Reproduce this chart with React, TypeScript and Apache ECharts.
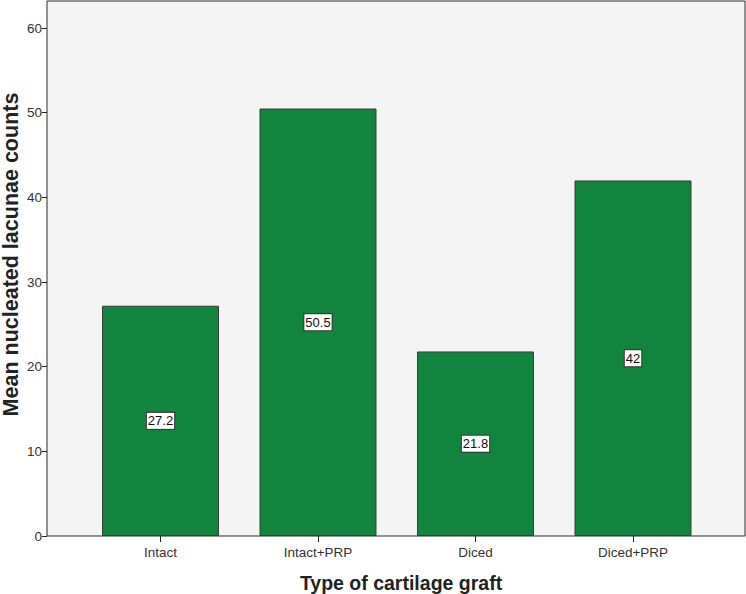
import React, { useEffect, useRef } from "react";
import * as echarts from "echarts";

const categories = ["Intact", "Intact+PRP", "Diced", "Diced+PRP"];
const meanCounts = [27.2, 50.5, 21.8, 42];
const yTicks = [0, 10, 20, 30, 40, 50, 60];
const xTitle = "Type of cartilage graft";
const yTitle = "Mean nucleated lacunae counts";

export default function App() {
  const ref = useRef<HTMLDivElement>(null);
  useEffect(() => {
    const chart = echarts.init(ref.current!, null, { renderer: "svg" });
    const font = "Arial, 'Liberation Sans', sans-serif";
    const yMax = 63.2;
    chart.setOption({
      animation: false,
      backgroundColor: "#ffffff",
      textStyle: { fontFamily: font },
      grid: [
        {
          left: 47,
          right: 1,
          top: 1,
          bottom: 58,
          outerBoundsMode: "none",
          containLabel: false,
          show: true,
          backgroundColor: "#f4f4f4",
          borderColor: "#2a2a2a",
          borderWidth: 1,
        },
        {
          left: 81.75,
          right: 34.25,
          top: 1,
          bottom: 58,
          outerBoundsMode: "none",
          containLabel: false,
        },
      ],
      graphic: [
        {
          type: "text",
          x: 401,
          y: 583,
          style: {
            text: xTitle,
            fontSize: 19.5,
            fontWeight: "bold",
            fill: "#222",
            fontFamily: font,
            align: "center",
            verticalAlign: "middle",
          },
        },
        {
          type: "text",
          x: 11,
          y: 254.5,
          rotation: Math.PI / 2,
          style: {
            text: yTitle,
            fontSize: 21.5,
            fontWeight: "bold",
            fill: "#222",
            fontFamily: font,
            align: "center",
            verticalAlign: "middle",
          },
        },
      ],
      xAxis: [
        { type: "value", gridIndex: 0, show: false, min: 0, max: 1 },
        {
          type: "category",
          gridIndex: 1,
          data: categories,
          axisLine: { show: false },
          axisTick: { show: true, alignWithLabel: true, length: 6, lineStyle: { color: "#222" } },
          axisLabel: { fontSize: 13.5, color: "#333", margin: 9.5, fontFamily: font },
        },
      ],
      yAxis: [
        {
          type: "value",
          gridIndex: 0,
          min: 0,
          max: yMax,
          interval: 10,
          axisLine: { show: false },
          axisTick: { show: true, length: 5, customValues: yTicks, lineStyle: { color: "#222" } },
          axisLabel: { fontSize: 13.5, color: "#333", margin: 5, customValues: yTicks, fontFamily: font },
          splitLine: { show: false },
        },
        { type: "value", gridIndex: 1, min: 0, max: yMax, show: false },
      ],
      series: [
        {
          type: "bar",
          xAxisIndex: 1,
          yAxisIndex: 1,
          data: meanCounts,
          barWidth: 117,
          itemStyle: { color: "#13843d", borderColor: "#3a3a3a", borderWidth: 1 },
          label: {
            show: true,
            position: "inside",
            color: "#111",
            fontSize: 13,
            fontFamily: font,
            backgroundColor: "#ffffff",
            borderColor: "#333",
            borderWidth: 1,
            padding: [2, 1, 1, 1],
          },
        },
      ],
    });
    return () => chart.dispose();
  }, []);
  return (
    <div
      ref={ref}
      style={{ position: "fixed", left: 0, top: 0, width: 746, height: 594 }}
    />
  );
}
